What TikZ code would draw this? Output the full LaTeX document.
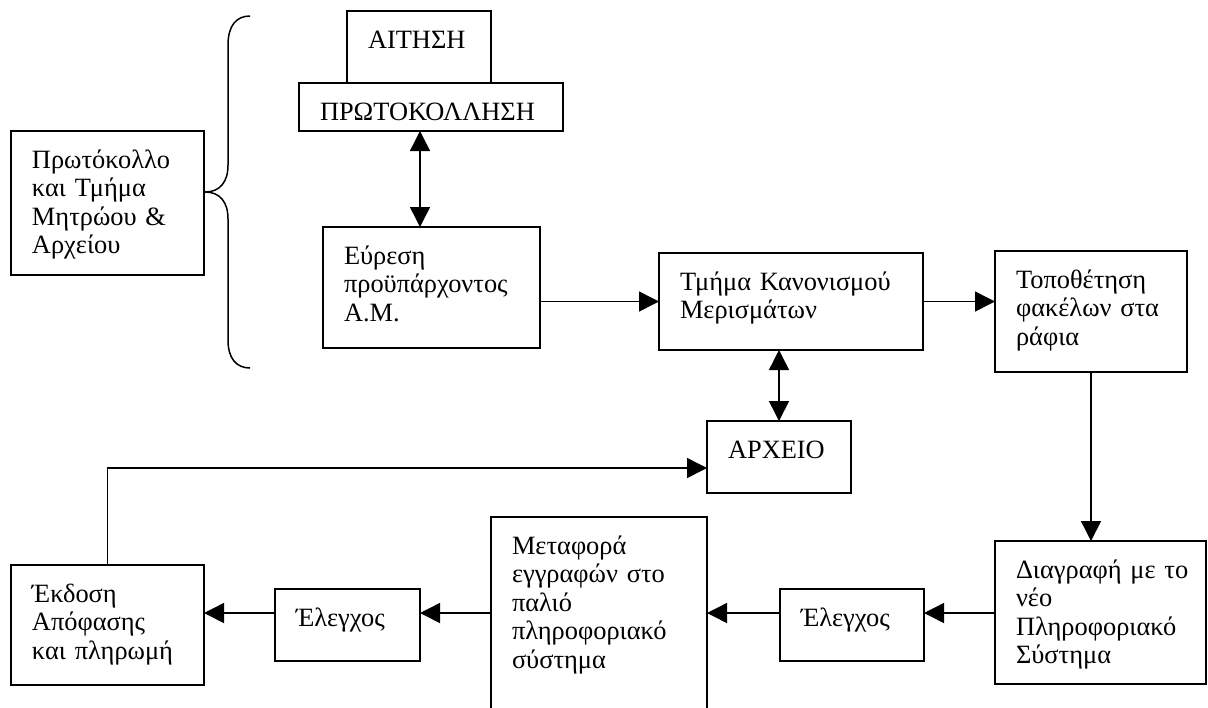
\documentclass[tikz,border=0pt]{standalone}
\usepackage{fontspec}
\setmainfont{Liberation Serif}
\usetikzlibrary{arrows.meta}

\begin{document}
\begin{tikzpicture}[
    x=0.5pt, y=-0.5pt,
    font=\fontsize{13.2}{14.3}\selectfont,
    line width=0.75pt,
    kouti/.style={draw, anchor=north west, align=left, outer sep=0pt,
        inner xsep=10.5pt, inner ysep=0pt, text height=18.5pt},
    arr/.style={-{Triangle[length=10pt, width=10pt]}},
    dbl/.style={{Triangle[length=10pt, width=10pt]}-{Triangle[length=10pt, width=10pt]}},
]
\useasboundingbox (0,0) rectangle (1208,707);
\clip (0,0) rectangle (1208,707);

% Πρωτόκολλο και Μητρώο
\node[kouti, text width=51pt, text depth=17.5pt] (aitisi) at (347,11) {ΑΙΤΗΣΗ};
\node[kouti, text width=111pt, text depth=5.5pt] (protok) at (299,83) {ΠΡΩΤΟΚΟΛΛΗΣΗ};
\node[kouti, text width=75.5pt, text depth=53.5pt] (mitroo) at (11,131) {Πρωτόκολλο\\και~Τμήμα\\Μητρώου~\&\\Αρχείου};
\node[kouti, text width=87.5pt, text depth=42pt] (evresi) at (323,227) {Εύρεση\\προϋπάρχοντος\\Α.Μ.};

% αγκύλη
\draw (250,16) .. controls (236,16) and (228,26) .. (228,45) -- (228,165)
    .. controls (228,182) and (220,192) .. (205,192)
    .. controls (220,192) and (228,202) .. (228,219) -- (228,340)
    .. controls (228,358) and (236,368) .. (250,368);

% Κανονισμός και αρχείο
\node[kouti, text width=111pt, text depth=30pt] (kanon) at (659,253) {Τμήμα~Κανονισμού\\Μερισμάτων};
\node[kouti, text width=75pt, text depth=42pt] (topoth) at (995,251) {Τοποθέτηση\\φακέλων~στα\\ράφια};
\node[kouti, text width=51pt, text depth=17.5pt] (archeio) at (707,421) {ΑΡΧΕΙΟ};

% κάτω σειρά
\node[kouti, text width=84.5pt, text depth=53pt] (diagrafi) at (995,541) {Διαγραφή~με~το\\νέο\\Πληροφοριακό\\Σύστημα};
\node[kouti, text width=51pt, text depth=17.5pt] (elegxos2) at (780,589) {Έλεγχος};
\node[kouti, text width=87pt, text depth=86.5pt] (metafora) at (491,517) {Μεταφορά\\εγγραφών~στο\\παλιό\\πληροφοριακό\\σύστημα};
\node[kouti, text width=51.5pt, text depth=17.5pt] (elegxos1) at (275,589) {Έλεγχος};
\node[kouti, text width=75.5pt, text depth=41.5pt] (ekdosi) at (11,565) {Έκδοση\\Απόφασης\\και~πληρωμή};

% βέλη
\draw[dbl] ([xshift=-5.5pt]protok.south) -- ([xshift=-5.5pt]protok.south |- evresi.north);
\draw[dbl] (archeio.north |- kanon.south) -- (archeio.north);
\draw[arr] (evresi.east |- kanon.west) -- (kanon.west);
\draw[arr] (kanon.east) -- (kanon.east -| topoth.west);
\draw[arr] (topoth.south) -- (topoth.south |- diagrafi.north);

\coordinate (seira) at (0,613);
\foreach \apo/\pros in {diagrafi/elegxos2, elegxos2/metafora, metafora/elegxos1, elegxos1/ekdosi}
    \draw[arr] (\apo.west |- seira) -- (\pros.east |- seira);

\draw[arr] (ekdosi.north) |- ([yshift=-5.5pt]archeio.west);

\end{tikzpicture}
\end{document}
